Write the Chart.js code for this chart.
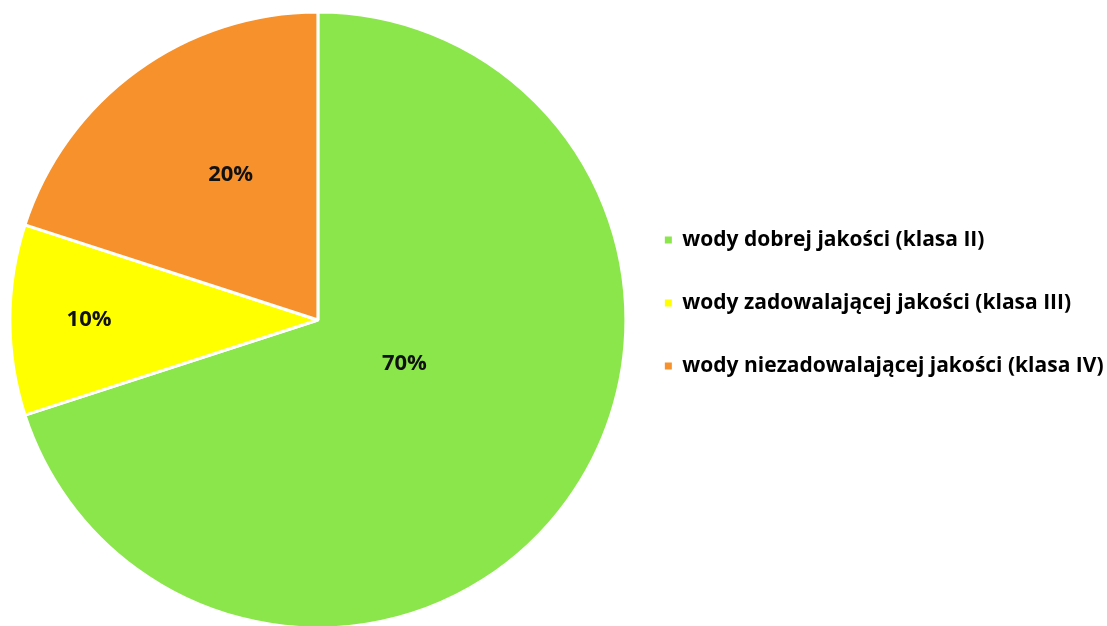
<!DOCTYPE html>
<html>
<head>
<meta charset="utf-8">
<script src="https://cdn.jsdelivr.net/npm/chart.js@4/dist/chart.umd.min.js"></script>
<style>
  html, body { margin: 0; padding: 0; background: #fff; overflow: hidden; }
  #wrap { width: 1107px; height: 626px; }
</style>
</head>
<body>
<div id="wrap"><canvas id="pieChart"></canvas></div>
<script>
const categories = [
  'wody dobrej jakości (klasa II)',
  'wody zadowalającej jakości (klasa III)',
  'wody niezadowalającej jakości (klasa IV)'
];
const shares = [70, 10, 20];
const sliceColors = ['#8be64c', '#ffff00', '#f7912b'];

// where the % labels sit: fraction of radius, and a small turn off the slice middle (deg)
const labelRadius = [0.315, 0.743, 0.55];
const labelTurn = [-9, 0, 5];

const pctLabels = {
  id: 'pctLabels',
  afterDatasetsDraw(chart) {
    const ctx = chart.ctx;
    const meta = chart.getDatasetMeta(0);
    ctx.save();
    ctx.font = 'bold 22px "Open Sans"';
    ctx.fillStyle = '#111';
    ctx.textAlign = 'center';
    ctx.textBaseline = 'middle';
    meta.data.forEach((arc, i) => {
      const a = (arc.startAngle + arc.endAngle) / 2 + labelTurn[i] * Math.PI / 180;
      const r = arc.outerRadius * labelRadius[i];
      ctx.fillText(shares[i] + '%', arc.x + Math.cos(a) * r, arc.y + Math.sin(a) * r);
    });
    ctx.restore();
  }
};

const ctx = document.getElementById('pieChart').getContext('2d');
window.pieChart = new Chart(ctx, {
  type: 'pie',
  data: {
    labels: categories,
    datasets: [{
      data: shares,
      backgroundColor: sliceColors,
      borderColor: '#ffffff',
      borderWidth: 3
    }]
  },
  options: {
    responsive: true,
    maintainAspectRatio: false,
    animation: false,
    radius: 308,
    layout: { padding: { top: 14, left: 13, right: -6.5, bottom: 0 } },
    plugins: {
      tooltip: { enabled: false },
      legend: {
        position: 'right',
        align: 'start',
        title: { display: true, text: '', padding: { top: 149.5, bottom: 0 }, font: { size: 20 } },
        labels: {
          boxWidth: 7,
          boxHeight: 7,
          padding: 42,
          color: '#000',
          font: { family: '"Open Sans"', size: 21, weight: 'bold' },
          generateLabels(chart) {
            return Chart.overrides.doughnut.plugins.legend.labels.generateLabels(chart)
              .map(l => ({ ...l, lineWidth: 0 }));
          }
        }
      }
    }
  },
  plugins: [pctLabels]
});
</script>
</body>
</html>
